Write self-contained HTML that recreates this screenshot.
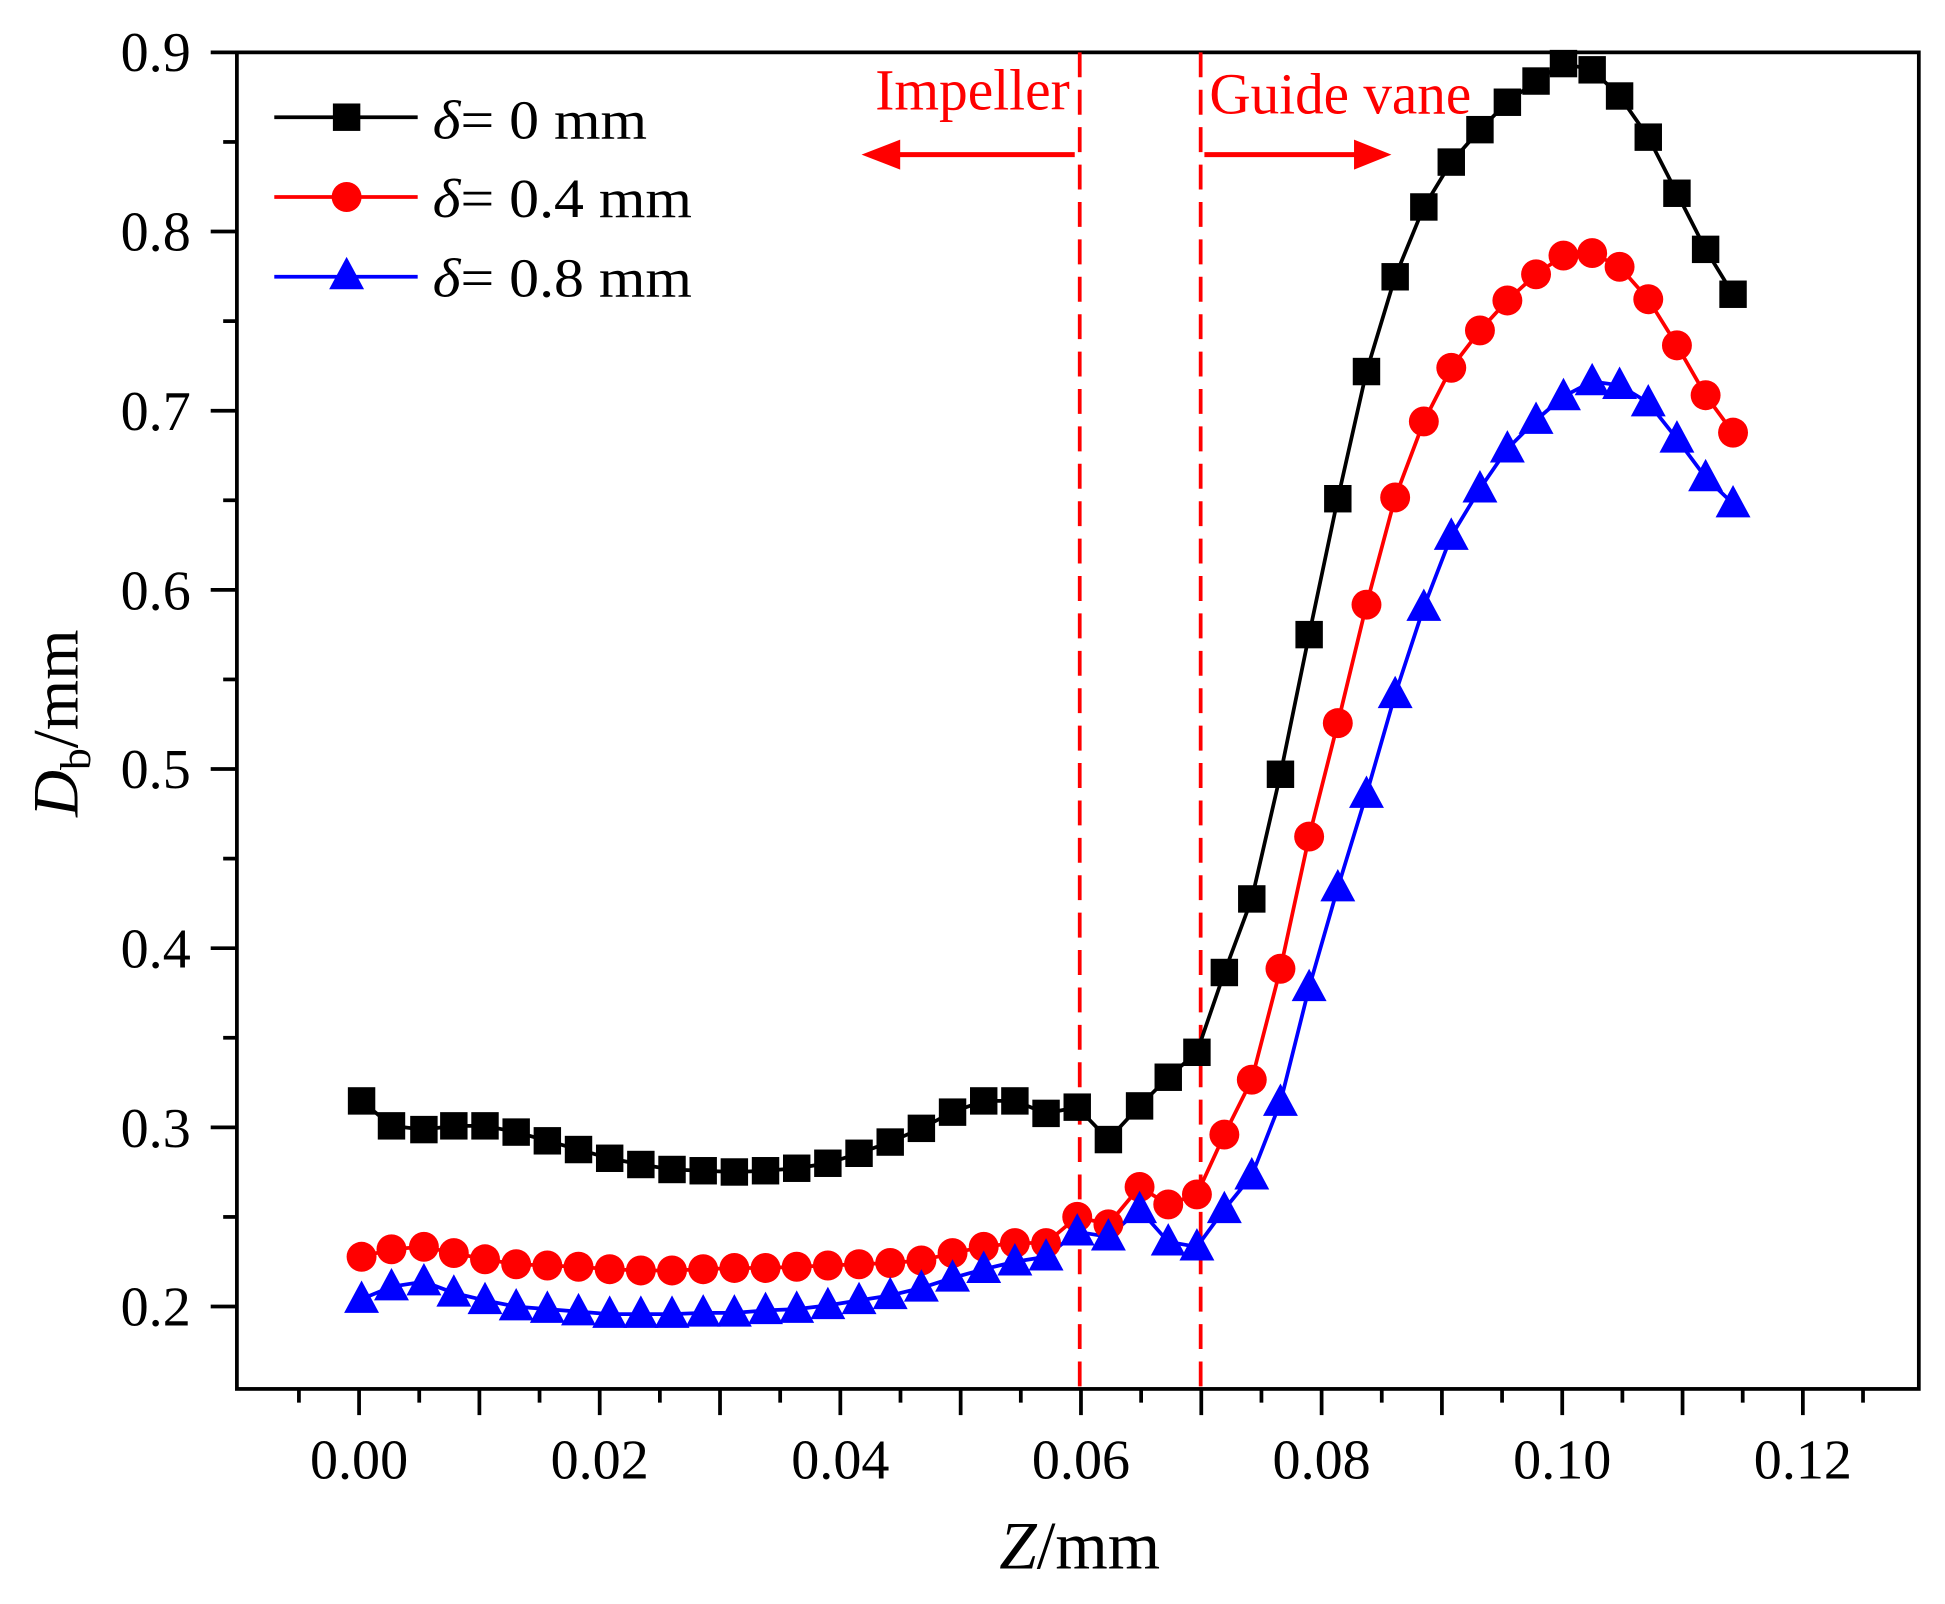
<!DOCTYPE html>
<html><head><meta charset="utf-8"><style>html,body{margin:0;padding:0;background:#fff}svg{display:block}</style></head>
<body>
<svg id="s" width="1945" height="1604" viewBox="0 0 1560 1286.5" preserveAspectRatio="none" xmlns="http://www.w3.org/2000/svg" font-family="'Liberation Serif',serif">
<rect width="1560" height="1286.5" fill="#fff"/>
<g id="ax" stroke="#000" stroke-width="3" fill="none">
<rect x="190" y="42" width="1349" height="1072"/>
</g>
<g fill="#000" font-size="45" text-anchor="end">
<text x="153" y="57">0.9</text><text x="153" y="201">0.8</text><text x="153" y="345">0.7</text><text x="153" y="489">0.6</text><text x="153" y="632">0.5</text><text x="153" y="776">0.4</text><text x="153" y="920">0.3</text><text x="153" y="1063">0.2</text>
</g>
<g fill="#000" font-size="45" text-anchor="middle">
<text x="288" y="1186">0.00</text><text x="481" y="1186">0.02</text><text x="674" y="1186">0.04</text><text x="867" y="1186">0.06</text><text x="1060" y="1186">0.08</text><text x="1253" y="1186">0.10</text><text x="1446" y="1186">0.12</text>
</g>
<text x="866" y="1258" font-size="54" text-anchor="middle"><tspan font-style="italic">Z</tspan>/mm</text>
<text transform="translate(62,580) rotate(-90)" font-size="52" text-anchor="middle"><tspan font-style="italic">D</tspan><tspan font-size="35" dy="10">b</tspan><tspan dy="-10">/mm</tspan></text>
<g stroke="#f00" stroke-width="3" stroke-dasharray="20,10">
<line x1="866" y1="42" x2="866" y2="1114"/><line x1="963" y1="42" x2="963" y2="1114"/>
</g>
<g stroke="#f00" stroke-width="4"><line x1="862" y1="124" x2="715" y2="124"/><line x1="966" y1="124" x2="1090" y2="124"/></g>
<g fill="#f00"><polygon points="691,124 722,112 722,136"/><polygon points="1116,124 1086,112 1086,136"/></g>
<g fill="#f00" font-size="47"><text x="702" y="88" textLength="156" lengthAdjust="spacingAndGlyphs">Impeller</text><text x="970" y="91" textLength="210" lengthAdjust="spacingAndGlyphs">Guide vane</text></g>
<g id="series"></g>
<g font-size="44" fill="#000">
<line x1="220" y1="94" x2="335" y2="94" stroke="#000" stroke-width="3"/><rect x="267" y="83" width="22" height="22" fill="#000"/>
<text x="347" y="111" textLength="172" lengthAdjust="spacingAndGlyphs"><tspan font-style="italic">δ</tspan>= 0 mm</text>
<line x1="220" y1="158" x2="335" y2="158" stroke="#f00" stroke-width="3"/><circle cx="278" cy="158" r="12" fill="#f00"/>
<text x="347" y="174" textLength="208" lengthAdjust="spacingAndGlyphs"><tspan font-style="italic">δ</tspan>= 0.4 mm</text>
<line x1="220" y1="222" x2="335" y2="222" stroke="#00f" stroke-width="3"/><polygon points="278,206 292,232 264,232" fill="#00f"/>
<text x="347" y="238" textLength="208" lengthAdjust="spacingAndGlyphs"><tspan font-style="italic">δ</tspan>= 0.8 mm</text>
</g>
</svg>
<script>
var NS="http://www.w3.org/2000/svg",ax=document.getElementById("ax"),se=document.getElementById("series");
function L(x1,y1,x2,y2){var l=document.createElementNS(NS,"line");l.setAttribute("x1",x1);l.setAttribute("y1",y1);l.setAttribute("x2",x2);l.setAttribute("y2",y2);ax.appendChild(l);}
for(var i=0;i<15;i++){var y=42+i*71.85;L(190,y,190-(i%2?11:21),y);}
for(var k=-1;k<=25;k++){var x=288+48.25*k;if(x<189||x>1540)continue;L(x,1114,x,1114+(k%2?11:21));}
var X=[290,314,340,364,389,414,439,464,489,514,539,564,589,614,639,664,689,714,739,764,789,814,839,864,889,914,937,960,982,1004,1027,1050,1073,1096,1119,1142,1164,1187,1209,1232,1254,1277,1299,1322,1345,1368,1390];
var B=[883,903,906,903,903,908,915,922,929,934,938,939,940,939,937,933,925,916,905,892,883,883,893,888,914,887,864,844,780,721,621,509,400,298,222,166,130,104,82,65,51,56,77,110,155,200,236];
var R=[1008,1002,1000,1005,1010,1014,1015,1016,1018,1019,1019,1018,1017,1017,1016,1015,1014,1013,1011,1005,1000,997,997,976,982,952,966,958,910,866,777,671,580,485,399,338,295,265,241,220,205,203,214,240,277,317,347];
var U=[1042,1032,1028,1037,1043,1048,1050,1052,1054,1054,1054,1053,1053,1051,1050,1047,1043,1039,1033,1025,1018,1012,1008,988,992,970,996,1000,970,943,884,792,712,637,557,487,430,392,360,337,318,306,309,323,352,383,404];
function poly(Y,c){var p=document.createElementNS(NS,"polyline");p.setAttribute("points",X.map(function(x,i){return x+","+Y[i]}).join(" "));p.setAttribute("fill","none");p.setAttribute("stroke",c);p.setAttribute("stroke-width","3");se.appendChild(p);}
poly(B,"#000");poly(R,"#f00");poly(U,"#00f");
X.forEach(function(x,i){var r=document.createElementNS(NS,"rect");r.setAttribute("x",x-11);r.setAttribute("y",B[i]-11);r.setAttribute("width",22);r.setAttribute("height",22);r.setAttribute("fill","#000");se.appendChild(r);});
X.forEach(function(x,i){var c=document.createElementNS(NS,"circle");c.setAttribute("cx",x);c.setAttribute("cy",R[i]);c.setAttribute("r",12);c.setAttribute("fill","#f00");se.appendChild(c);});
X.forEach(function(x,i){var p=document.createElementNS(NS,"polygon");var y=U[i];p.setAttribute("points",x+","+(y-15)+" "+(x+14)+","+(y+11)+" "+(x-14)+","+(y+11));p.setAttribute("fill","#00f");se.appendChild(p);});
</script>
</body></html>
